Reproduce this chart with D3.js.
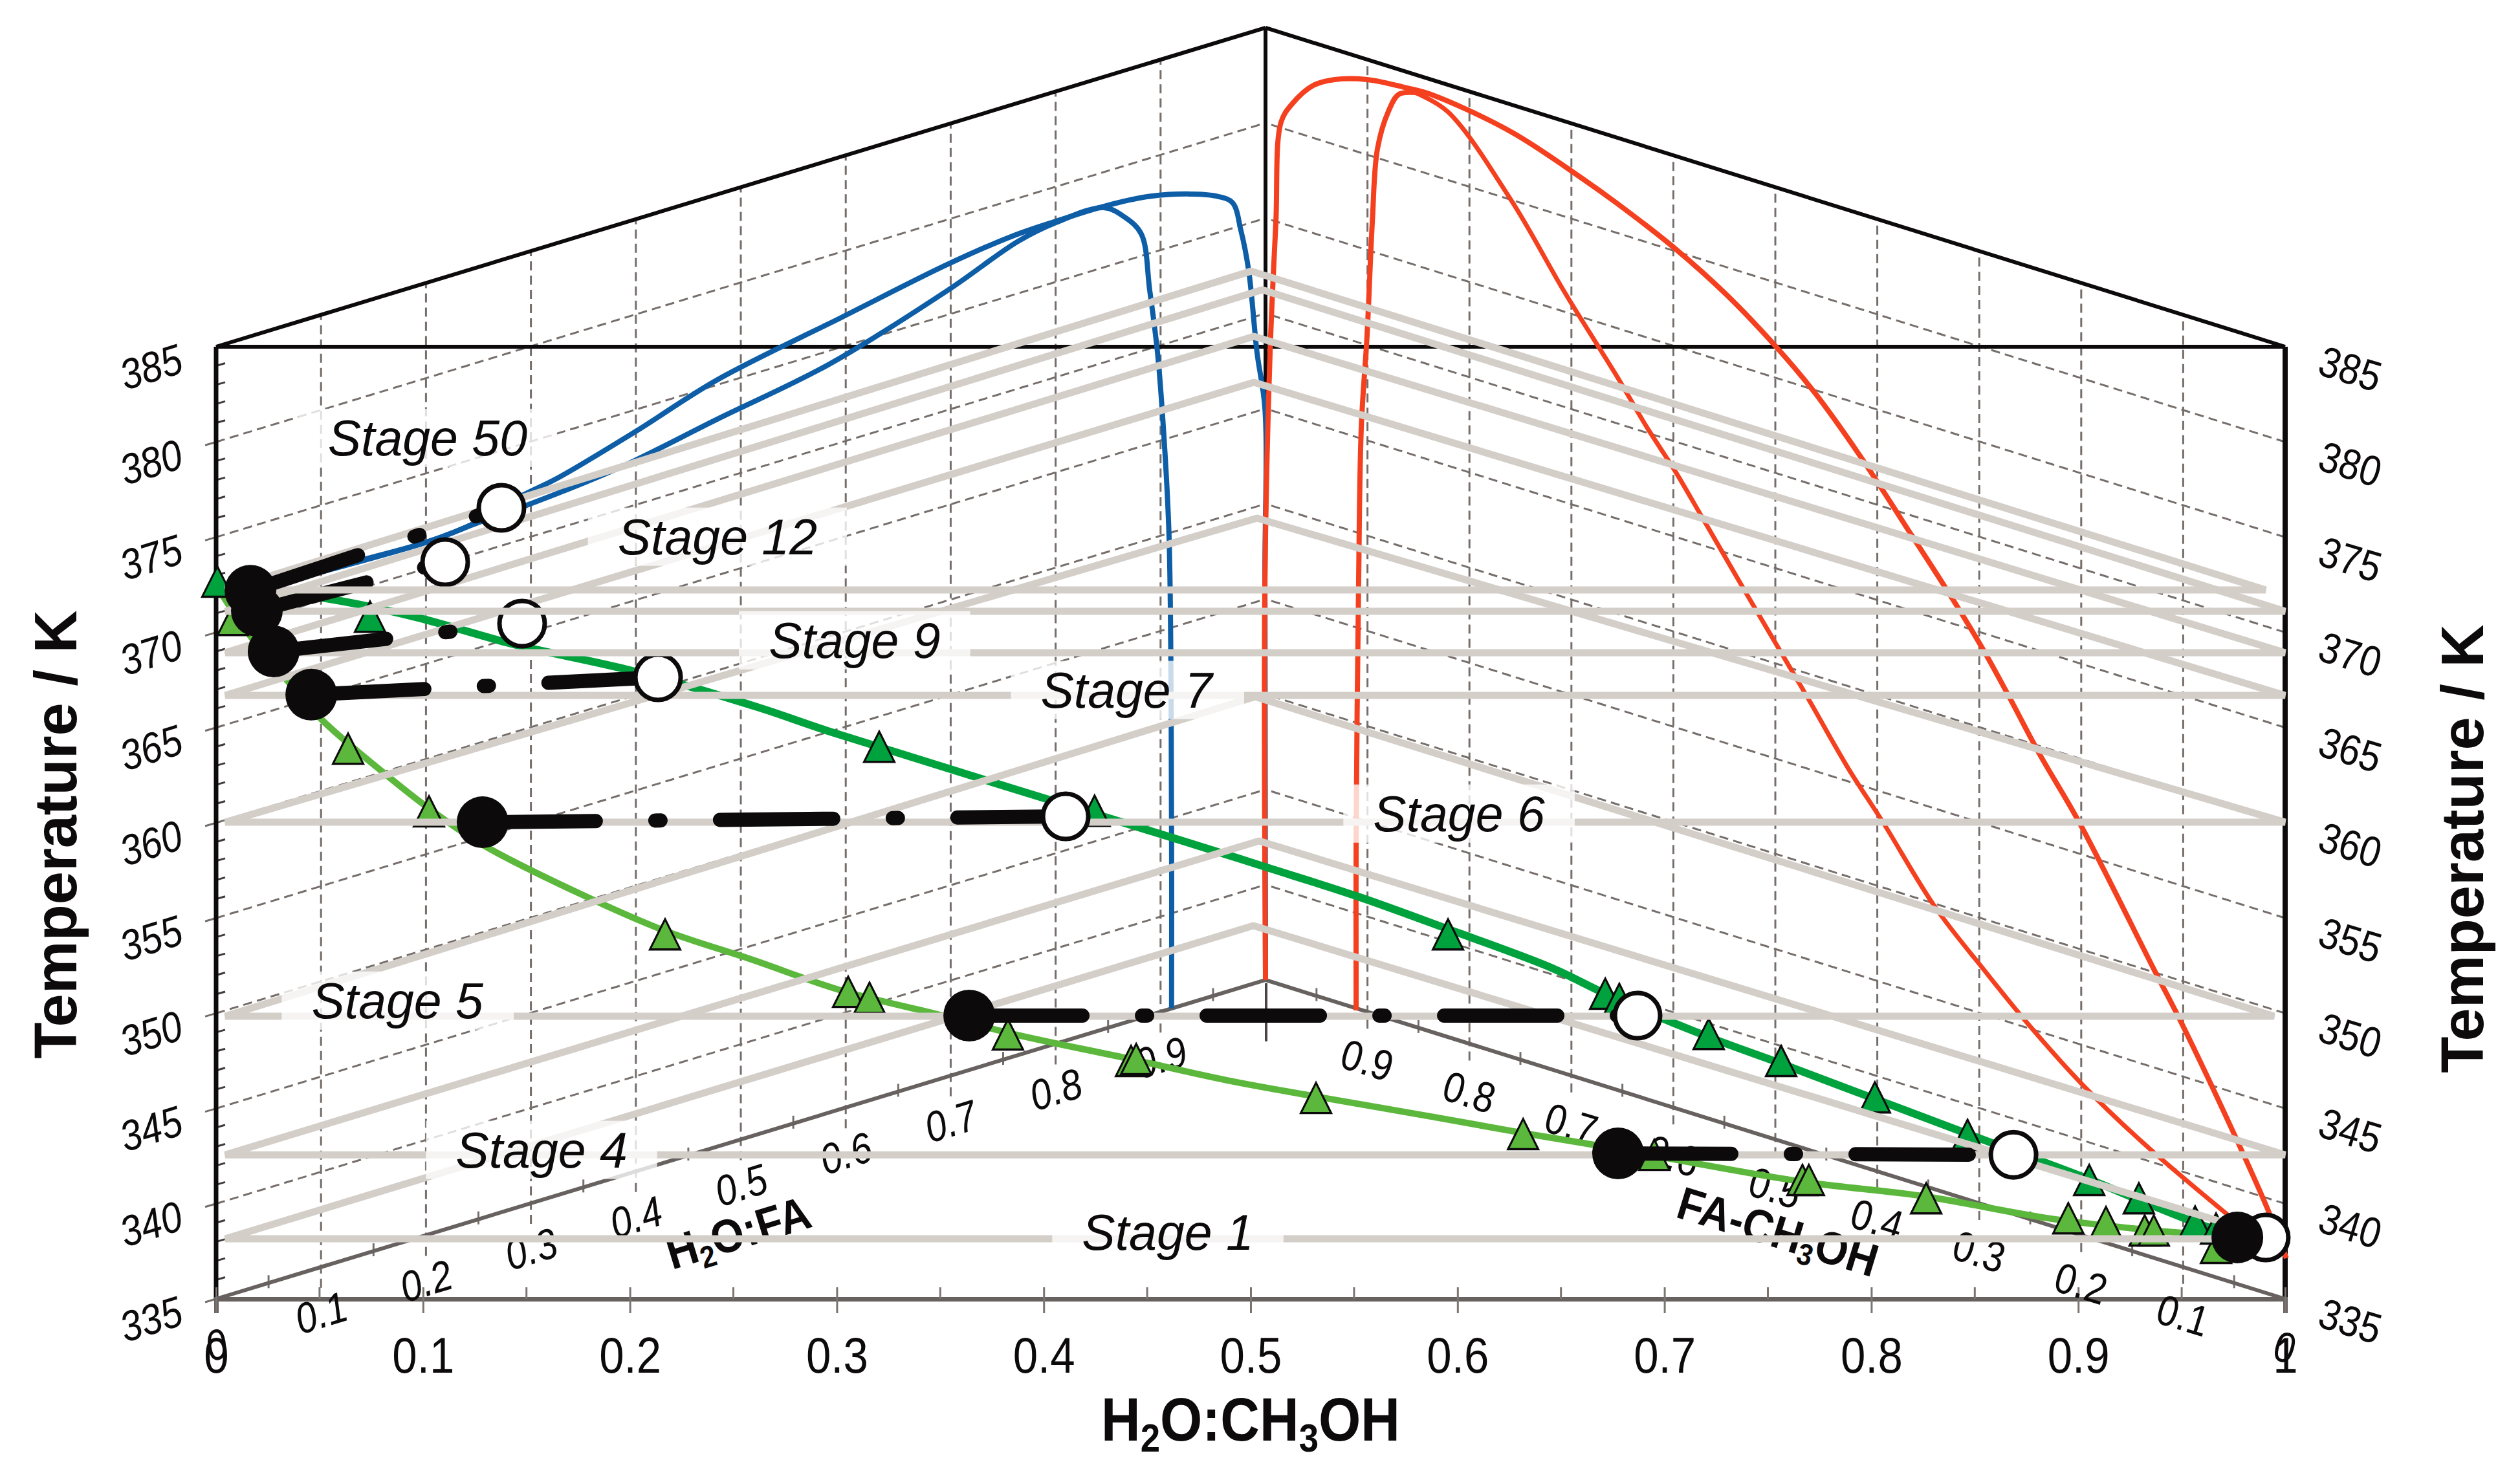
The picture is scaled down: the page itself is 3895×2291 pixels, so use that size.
<!DOCTYPE html>
<html>
<head>
<meta charset="utf-8">
<script src="https://cdn.jsdelivr.net/npm/d3@7"></script>
<style>
    body { margin: 0; background: #fff; }
    text { font-family: "Liberation Sans", Arial, sans-serif; fill: #0c0a0b; }
</style>
</head>
<body>
<div id="chart"></div>
<script>
// all points are [axis fraction, apparent temperature]
var blueOuter = [[.0166,372.19],[.0528,373.31],[.1029,374.78],[.1266,375.83],[.1485,377.22],[.1645,378.07],[.2023,380.52],[.2423,383.27],[.3021,386.53],[.3540,389.35],[.3849,390.81],[.4059,391.59],[.4290,392.37],[.4500,392.88],[.4706,393.02],[.4834,392.91],[.4912,392.57],[.4953,391.11],[.4991,388.97],[.5031,384.69],[.5069,381.77],[.5069,372.64],[.5072,351.75]]
var blueInner = [[.0166,372.19],[.1029,374.78],[.1266,375.76],[.1485,376.61],[.1826,378.07],[.2023,379.02],[.2423,381.20],[.2958,384.05],[.3540,387.99],[.3877,390.54],[.4059,391.52],[.4290,392.30],[.4393,391.79],[.4472,390.91],[.4512,387.99],[.4550,384.69],[.4578,380.79],[.4606,374.95],[.4618,359.05],[.4618,350.25]]
var redOuter = [[.5072,351.75],[.5069,372.64],[.5094,384.69],[.5122,391.52],[.5147,396.79],[.5200,397.74],[.5303,398.72],[.5406,399.03],[.5563,399.03],[.5744,398.62],[.5872,398.25],[.6260,396.28],[.6598,393.87],[.6773,392.51],[.7051,390.16],[.7305,387.68],[.7542,384.97],[.7724,382.62],[.7946,379.26],[.8196,375.08],[.8365,372.23],[.8533,369.24],[.8671,366.52],[.8812,363.63],[.9006,360.00],[.9368,352.26],[.9500,349.47],[.9769,343.29],[.9919,339.62],[1.0006,337.14]]
var redInner = [[.5794,398.35],[.5951,397.36],[.6260,392.68],[.6520,387.82],[.6773,383.40],[.6914,380.79],[.7051,378.48],[.7192,375.86],[.7386,372.23],[.7583,368.59],[.7695,366.52],[.7889,362.85],[.8058,360.00],[.8308,355.58],[.8546,352.26],[.8755,349.47],[.9024,346.21],[.9321,343.12],[.9741,339.25]]
var redBranch = [[.5794,398.35],[.5716,398.25],[.5666,397.36],[.5613,395.39],[.5588,391.52],[.5563,385.64],[.5535,380.79],[.5522,372.64],[.5510,359.05],[.5510,350.15]]
var greenLower = [[0,372.47],[.0069,371.31],[.0169,369.75],[.0350,367.40],[.0519,365.33],[.0807,362.65],[.1029,360.75],[.1288,358.85],[.1782,356.16],[.2170,354.33],[.2586,352.83],[.3021,351.20],[.3499,349.91],[.3834,348.96],[.4431,347.57],[.4887,346.48],[.5316,345.63],[.5891,344.54],[.6323,343.70],[.6682,343.05],[.7652,341.18],[.8249,340.40],[.8846,339.25],[.9293,338.67],[.9709,338.29]]
var greenUpper = [[0,372.47],[.0550,371.75],[.0966,370.80],[.1426,369.41],[.2023,367.95],[.2624,366.05],[.2958,364.82],[.4672,359.05],[.5078,357.66],[.5510,356.16],[.5951,354.43],[.6460,352.36],[.6714,351.03],[.7205,348.79],[.7564,347.36],[.8011,345.53],[.8458,343.70],[.9053,341.28],[.9293,340.20],[.9559,339.04],[.9740,338.36]]
var triDark = [[.0006,372.64],[.0744,370.80],[.3205,363.97],[.4246,360.61],[.5954,354.12],[.6714,351.00],[.6782,350.73],[.7214,348.89],[.7564,347.47],[.8017,345.56],[.8465,343.59],[.9053,341.22],[.9293,340.26],[.9565,339.04],[.9666,338.67]]
var triLight = [[.0081,370.63],[.0638,363.87],[.1029,360.58],[.2170,354.12],[.3055,351.10],[.3158,350.79],[.3827,348.86],[.4422,347.47],[.4447,347.57],[.5316,345.53],[.6317,343.63],[.6951,342.54],[.7667,341.22],[.7698,341.22],[.8265,340.26],[.8952,339.21],[.9134,339.01],[.9321,338.57],[.9365,338.57],[.9666,337.65]]

var stageNames = ['Stage 1', 'Stage 4', 'Stage 5', 'Stage 6', 'Stage 7', 'Stage 9', 'Stage 12', 'Stage 50']
var stageT = [338.16, 342.57, 349.84, 360.03, 366.69, 368.93, 371.11, 372.23]
var stageApex = [[.5013,354.60],[.5041,359.05],[.5022,366.62],[.5031,376.00],[.5016,383.13],[.5016,385.54],[.5056,387.99],[.5003,388.97]]
var stageRight = [.996, 1, .9947, 1, 1, 1, 1, .9906]
var stageBlack = [[.9769,338.23],[.6776,342.64],[.3640,349.88],[.1288,360.03],[.0460,366.73],[.0278,369.00],[.0197,371.14],[.0166,372.19]]
var stageWhite = [[.9906,338.23],[.8687,342.57],[.6870,349.88],[.4106,360.34],[.2136,367.64],[.1479,370.46],[.1107,373.69],[.1379,376.54]]
var stageLabelPos = [[.4600,338.53],[.1573,342.85],[.0876,350.69],[.6007,360.51],[.4400,367.0],[.3086,369.61],[.2423,375.05],[.1022,380.24]]

var frontTicks = [0, .1, .2, .3, .4, .5, .6, .7, .8, .9, 1]
var frontMinor = [.05, .15, .25, .35, .45, .55, .65, .75, .85, .95]
var tempTicks = [335, 340, 345, 350, 355, 360, 365, 370, 375, 380, 385]
var depthTicks = [0, .1, .2, .3, .4, .5, .6, .7, .8, .9]

var width = 3895,
    height = 2291,
    backX = .5072,   // back corner of the prism on the front axis
    backT = 16.75,   // how far the back corner is lifted, in K
    slope = 17,
    tall = 1.14      // the figure's digits are stretched upward

var svg = d3.select('#chart').append('svg')
    .attr('width', width)
    .attr('height', height)
    .attr('viewBox', `0 0 ${width} ${height}`)
    .style('display', 'block')

var x = d3.scaleLinear().domain([0, 1]).range([334, 3532])
var t = d3.scaleLinear().domain([335, 385]).range([2008, 536])

// d is the fraction along a side wall, from the front corner to the back corner
function leftWall(d, T) { return [x(backX * d), t(T + backT * d)] }
function rightWall(d, T) { return [x(1 - (1 - backX) * d), t(T + backT * d)] }

var line = d3.line().x(d => x(d[0])).y(d => t(d[1])).curve(d3.curveCatmullRom.alpha(.5))
var plain = d3.line()

function seg(g, a, b, color, w, dash) {
    return g.append('line')
        .attr('x1', a[0]).attr('y1', a[1]).attr('x2', b[0]).attr('y2', b[1])
        .attr('stroke', color)
        .attr('stroke-width', w)
        .attr('stroke-dasharray', dash || null)
}

var grid = svg.append('g')
var dashColor = '#756e6a'

tempTicks.slice(0, -1).forEach(T => {
    seg(grid, leftWall(0, T), leftWall(1, T), dashColor, 3, '14 8')
    seg(grid, rightWall(0, T), rightWall(1, T), dashColor, 3, '14 8')
    seg(grid, [x(0) - 17, t(T) + 5], [x(0), t(T)], dashColor, 3)
})
depthTicks.slice(1).forEach(d => {
    var a = leftWall(d, 335), b = leftWall(d, 385)
    seg(grid, [a[0], a[1] + 32], b, dashColor, 3, '14 8')
    a = rightWall(d, 335); b = rightWall(d, 385)
    seg(grid, [a[0], a[1] + 26], b, dashColor, 3, '14 8')
})
frontMinor.forEach(d => {
    var a = leftWall(d, 335)
    seg(grid, [a[0], a[1] - 12], [a[0], a[1] + 8], dashColor, 3)
    a = rightWall(d, 335)
    seg(grid, [a[0], a[1] - 12], [a[0], a[1] + 8], dashColor, 3)
})
d3.range(336, 385).filter(T => T % 5 != 0).forEach(T => {
    seg(grid, [x(0), t(T)], [x(0) + 14, t(T) - 4], '#3f3b3a', 3)
})

// frame of the prism
var frame = svg.append('g')
seg(frame, leftWall(0, 385), leftWall(1, 385), '#0c0a0b', 6)
seg(frame, rightWall(0, 385), rightWall(1, 385), '#0c0a0b', 6)
seg(frame, [x(0), t(385)], [x(1), t(385)], '#0c0a0b', 6)
seg(frame, [x(0), t(385)], [x(0), t(335)], '#0c0a0b', 7)
seg(frame, [x(1), t(385)], [x(1), t(335)], '#0c0a0b', 8)
seg(frame, leftWall(1, 385), leftWall(1, 335), '#0c0a0b', 6)
seg(frame, leftWall(0, 335), leftWall(1, 335), '#67615f', 6)
seg(frame, rightWall(0, 335), rightWall(1, 335), '#67615f', 6)
seg(frame, [x(backX) + 1, t(335 + backT) + 5], [x(backX) + 1, t(335 + backT) + 95], '#4a4544', 4)

// front axis
var frontAxis = svg.append('g')
    .attr('transform', `translate(0, ${t(335)})`)
    .call(d3.axisBottom(x).tickValues(frontTicks).tickSize(22)
        .tickFormat(d => d == 0 || d == 1 ? d3.format('d')(d) : d3.format('.1f')(d)))
frontAxis.select('.domain').attr('stroke', '#67615f').attr('stroke-width', 7)
frontAxis.selectAll('.tick line').attr('y1', -18).attr('stroke', '#7b7572').attr('stroke-width', 3)
frontAxis.selectAll('.tick text')
    .attr('y', 0).attr('dy', '.36em')
    .attr('transform', `translate(0, 86) scale(1, ${tall})`)
    .style('font-family', '"Liberation Sans", Arial, sans-serif')
    .style('font-size', '69px')
    .attr('fill', '#0c0a0b')
frontMinor.forEach(v => seg(frontAxis, [x(v), -18], [x(v), 0], '#7b7572', 3))

// temperature axes
var leftAxis = svg.append('g')
    .attr('transform', `translate(${x(0)}, 0)`)
    .call(d3.axisLeft(t).tickValues(tempTicks).tickFormat(d3.format('d')))
var rightAxis = svg.append('g')
    .attr('transform', `translate(${x(1)}, 0)`)
    .call(d3.axisRight(t).tickValues(tempTicks).tickFormat(d3.format('d')))
leftAxis.select('.domain').remove()
rightAxis.select('.domain').remove()
leftAxis.selectAll('.tick line').remove()
rightAxis.selectAll('.tick line').remove()
leftAxis.selectAll('.tick text')
    .attr('x', 0).attr('y', 0).attr('dy', '.36em')
    .attr('text-anchor', 'middle')
    .attr('transform', `translate(-101, 30) rotate(${-slope}) scale(1, ${tall})`)
    .style('font-family', '"Liberation Sans", Arial, sans-serif')
    .style('font-size', '58px')
    .style('font-style', 'italic')
rightAxis.selectAll('.tick text')
    .attr('x', 0).attr('y', 0).attr('dy', '.36em')
    .attr('text-anchor', 'middle')
    .attr('transform', `translate(101, 33) rotate(${slope}) scale(1, ${tall})`)
    .style('font-family', '"Liberation Sans", Arial, sans-serif')
    .style('font-size', '58px')

// labels on the two base edges
svg.append('g').selectAll('text')
    .data(depthTicks)
    .enter().append('text')
    .text(d => d == 0 ? '0' : d3.format('.1f')(d))
    .attr('text-anchor', 'middle')
    .attr('dy', '.36em')
    .style('font-size', '58px')
    .style('font-style', 'italic')
    .attr('transform', d => {
        var p = leftWall(d, 335)
        return `translate(${p[0]}, ${p[1] + 70}) rotate(${-slope}) scale(1, ${tall})`
    })
svg.append('g').selectAll('text')
    .data(depthTicks)
    .enter().append('text')
    .text(d => d == 0 ? '0' : d3.format('.1f')(d))
    .attr('text-anchor', 'middle')
    .attr('dy', '.36em')
    .style('font-size', '58px')
    .attr('transform', d => {
        var p = rightWall(d, 335)
        return `translate(${p[0]}, ${p[1] + 74}) rotate(${slope}) scale(1, ${tall})`
    })

function subText(parts, size, transform) {
    var txt = svg.append('text')
        .attr('text-anchor', 'middle')
        .attr('transform', transform)
        .style('font-size', size + 'px')
        .style('font-weight', 'bold')
    parts.forEach(p => {
        var isSub = /^[23]$/.test(p)
        txt.append('tspan')
            .text(p)
            .attr('dy', isSub ? size * .18 : -size * .18)
            .style('font-size', (isSub ? size * .65 : size) + 'px')
    })
    return txt
}
subText(['H', '2', 'O:FA'], 66, `translate(1152, 1942) rotate(${-slope}) scale(1, 1.1)`)
subText(['FA-CH', '3', 'OH'], 65, `translate(2737, 1940) rotate(${slope}) scale(1, 1.1)`)
subText(['H', '2', 'O:CH', '3', 'OH'], 84, 'translate(1933, 2244) scale(1, 1.12)')

svg.append('text').text('Temperature / K')
    .attr('text-anchor', 'middle')
    .attr('transform', 'translate(118, 1290) rotate(-90)')
    .style('font-size', '92px')
    .style('font-weight', 'bold')
svg.append('text').text('Temperature / K')
    .attr('text-anchor', 'middle')
    .attr('transform', 'translate(3838, 1312) rotate(-90)')
    .style('font-size', '92px')
    .style('font-weight', 'bold')

// coexistence curves
var curves = svg.append('g').attr('fill', 'none')
curves.append('path').attr('d', line(blueInner)).attr('stroke', '#0d5ea6').attr('stroke-width', 8)
curves.append('path').attr('d', line(blueOuter)).attr('stroke', '#0d5ea6').attr('stroke-width', 8)
curves.append('path').attr('d', line(redBranch)).attr('stroke', '#f4401f').attr('stroke-width', 8)
curves.append('path').attr('d', line(redInner)).attr('stroke', '#f4401f').attr('stroke-width', 7)
curves.append('path').attr('d', line(redOuter)).attr('stroke', '#f4401f').attr('stroke-width', 8)
curves.append('path').attr('d', line(greenLower)).attr('stroke', '#5cb83c').attr('stroke-width', 10)
curves.append('path').attr('d', line(greenUpper)).attr('stroke', '#00a23e').attr('stroke-width', 12)

var tri = d3.symbol().type(d3.symbolTriangle).size(950)
function triangles(data, color) {
    svg.append('g').selectAll('path')
        .data(data)
        .enter().append('path')
        .attr('d', tri)
        .attr('transform', d => `translate(${x(d[0])}, ${t(d[1]) + 7}) scale(1, 1.155)`)
        .attr('fill', color)
        .attr('stroke', '#0c0a0b')
        .attr('stroke-width', 3)
}
triangles(triLight, '#5cb83c')
triangles(triDark, '#00a23e')

// one stage plane and its tie line; lower stages first so upper planes lie over them
stageT.forEach((T, i) => {
    var g = svg.append('g')
    var apex = stageApex[i]
    g.append('path')
        .attr('d', plain([[x(.0044), t(T)], [x(apex[0]), t(apex[1])], [x(stageRight[i]), t(T)]]) + 'Z')
        .attr('fill', 'none')
        .attr('stroke', '#d4cec9')
        .attr('stroke-width', 11)
        .attr('stroke-linejoin', 'bevel')
    var a = stageBlack[i], b = stageWhite[i]
    g.append('path')
        .attr('d', plain([[x(a[0]), t(a[1])], [x(b[0]), t(b[1])]]))
        .attr('stroke', '#0c0a0b')
        .attr('stroke-width', 22)
        .attr('stroke-linecap', 'round')
        .attr('stroke-dasharray', '175 92 8 92')
    g.append('circle')
        .attr('cx', x(b[0])).attr('cy', t(b[1]))
        .attr('r', 35)
        .attr('fill', '#fff')
        .attr('stroke', '#0c0a0b')
        .attr('stroke-width', 7)
    g.append('circle')
        .attr('cx', x(a[0])).attr('cy', t(a[1]))
        .attr('r', 40)
        .attr('fill', '#0c0a0b')
})

// stage names sit on a faded patch, the planes show through a little
var labels = svg.append('g')
stageNames.forEach((name, i) => {
    var pos = stageLabelPos[i]
    var box = labels.append('rect').attr('fill', '#fff').attr('fill-opacity', .78)
    var txt = labels.append('text').text(name)
        .attr('x', x(pos[0])).attr('y', t(pos[1]))
        .attr('dy', '.36em')
        .attr('text-anchor', 'middle')
        .style('font-size', '77px')
        .style('font-style', 'italic')
    var bb = txt.node().getBBox()
    box.attr('x', bb.x - 46).attr('y', bb.y - 2).attr('width', bb.width + 92).attr('height', bb.height + 4)
})
</script>
</body>
</html>
